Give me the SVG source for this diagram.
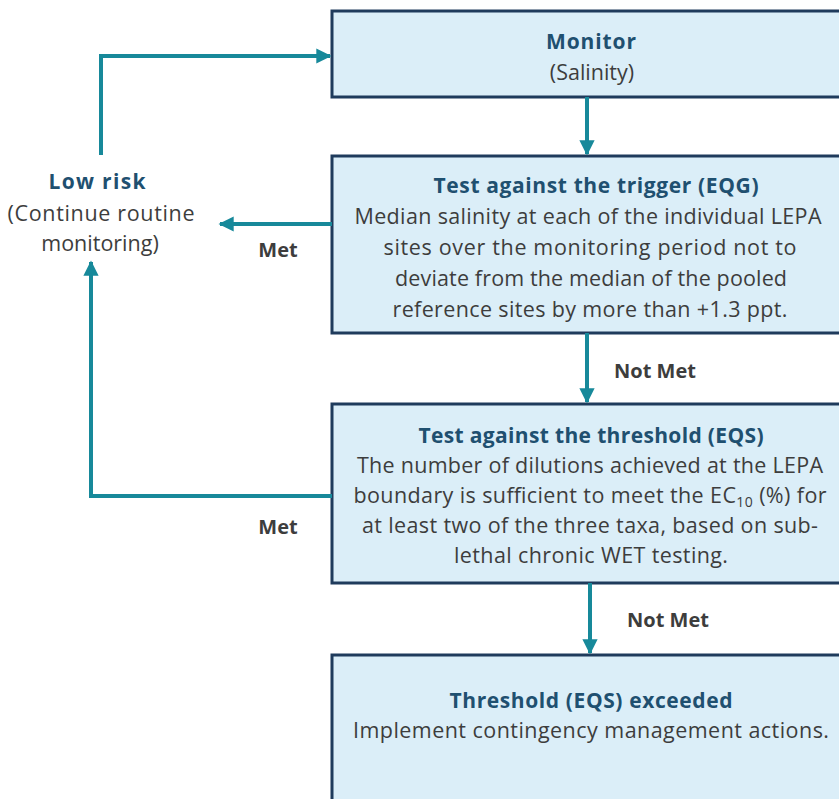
<svg xmlns="http://www.w3.org/2000/svg" width="839" height="799" viewBox="0 0 839 799">
<style>
.box{fill:#dbeef8;stroke:#1f3b5c;stroke-width:3}
.t{font-family:"Open Sans","Liberation Sans",sans-serif;font-size:21.5px;fill:#3d3d3d;text-anchor:middle}
.h{font-family:"Open Sans","Liberation Sans",sans-serif;font-size:21px;font-weight:bold;fill:#1f5070;text-anchor:middle}
.l{font-family:"Open Sans","Liberation Sans",sans-serif;font-size:20px;font-weight:bold;fill:#3d3d3d;text-anchor:middle}
.c{fill:none;stroke:#17899a;stroke-width:4}
</style>
<defs>
<marker id="ah" viewBox="0 0 10 10" refX="9" refY="5" markerWidth="3.8" markerHeight="3.8" orient="auto" markerUnits="strokeWidth">
<path d="M0,0 L10,5 L0,10 Z" fill="#17899a"/>
</marker>
</defs>
<g id="monitor">
<rect class="box" x="332" y="11" width="520" height="86"/>
<text class="h" x="591" y="49" textLength="90">Monitor</text>
<text class="t" x="592" y="80">(Salinity)</text>
</g>
<g id="trigger">
<rect class="box" x="332" y="156" width="520" height="177"/>
<text class="h" x="596" y="193" textLength="325">Test against the trigger (EQG)</text>
<text class="t" x="588" y="224" textLength="467">Median salinity at each of the individual LEPA</text>
<text class="t" x="590" y="255" textLength="413">sites over the monitoring  period not to</text>
<text class="t" x="591" y="286" textLength="392">deviate from the median of the pooled</text>
<text class="t" x="590" y="317" textLength="395">reference sites by more than +1.3 ppt.</text>
</g>
<g id="threshold">
<rect class="box" x="332" y="404" width="520" height="179"/>
<text class="h" x="591" y="443" textLength="345">Test against the threshold (EQS)</text>
<text class="t" x="590" y="473" textLength="466">The number  of dilutions achieved at the LEPA</text>
<text class="t" x="590" y="503" textLength="473">boundary  is sufficient to meet the  EC<tspan font-size="14" dy="4">10</tspan><tspan dy="-4"> (%) for</tspan></text>
<text class="t" x="590" y="533" textLength="456">at least two of the three taxa, based on sub-</text>
<text class="t" x="591" y="563" textLength="274">lethal chronic  WET testing.</text>
</g>
<g id="exceeded">
<rect class="box" x="332" y="655" width="520" height="160"/>
<text class="h" x="591" y="708" textLength="283">Threshold (EQS) exceeded</text>
<text class="t" x="591" y="738" textLength="476">Implement  contingency management  actions.</text>
</g>
<g id="lowrisk">
<text class="h" x="97" y="189" textLength="97">Low risk</text>
<text class="t" x="101" y="221" textLength="187">(Continue routine</text>
<text class="t" x="100" y="251">monitoring)</text>
</g>
<g id="connectors">
<path class="c" d="M101,155 V56 H330" marker-end="url(#ah)"/>
<path class="c" d="M587,97 V154" marker-end="url(#ah)"/>
<path class="c" d="M332,224 H220" marker-end="url(#ah)"/>
<path class="c" d="M587,333 V402" marker-end="url(#ah)"/>
<path class="c" d="M332,496 H91 V262" marker-end="url(#ah)"/>
<path class="c" d="M590,583 V653" marker-end="url(#ah)"/>
<text class="l" x="278" y="257">Met</text>
<text class="l" x="278" y="534">Met</text>
<text class="l" x="655" y="378">Not Met</text>
<text class="l" x="668" y="627">Not Met</text>
</g>
</svg>
